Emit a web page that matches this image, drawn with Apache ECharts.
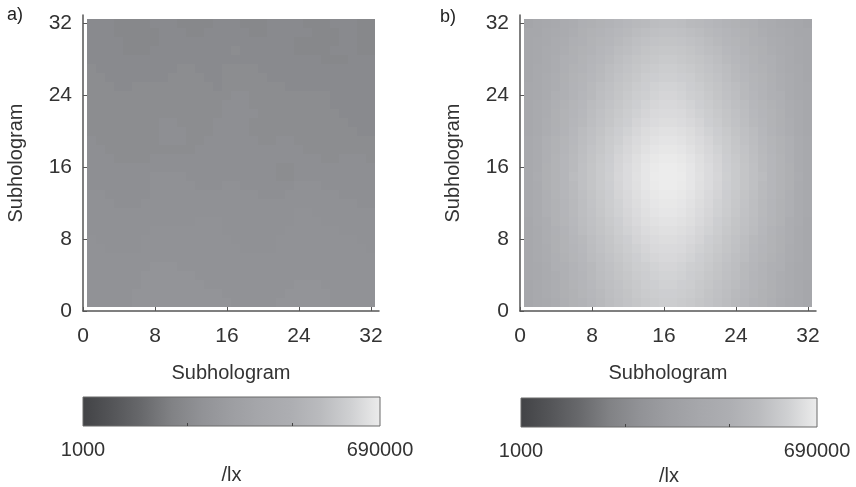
<!DOCTYPE html>
<html>
<head>
<meta charset="utf-8">
<script src="https://cdn.jsdelivr.net/npm/echarts@6/dist/echarts.min.js"></script>
<style>
  html, body { margin: 0; padding: 0; background: #fff; }
  #chart { width: 856px; height: 487px; }
</style>
</head>
<body>
<div id="chart"></div>
<script>
// illuminance per subhologram in klx
// rows run from the top (row 32) down to row 1, columns 1..32
const illumA = [
  [10,10,10,9,9,9,9,10, 10,10,9,9,9,9,10,10, 10,9,9,9,10,10,10,10, 9,9,9,10,10,10,9,9],
  [10,10,10,9,9,9,9,9, 10,10,10,9,9,10,10,10, 10,10,9,9,10,10,10,10, 10,9,9,9,10,10,9,9],
  [10,10,10,10,9,9,9,9, 10,10,10,10,10,10,10,10, 10,10,10,10,10,10,10,9, 9,9,9,9,10,10,9,9],
  [10,10,10,10,9,9,9,10, 10,10,10,10,10,10,10,10, 11,10,10,10,10,10,10,9, 9,9,9,10,10,10,9,9],
  [10,10,10,10,10,10,10,10, 10,10,10,10,10,10,10,10, 10,10,10,10,10,10,10,10, 10,10,9,9,9,10,10,10],
  [11,10,10,10,10,10,10,10, 10,10,11,11,10,10,10,11, 11,11,11,10,10,10,10,10, 10,10,10,10,10,10,10,10],
  [11,11,10,10,10,10,10,10, 10,11,11,11,11,10,10,11, 11,11,11,11,10,10,10,10, 10,10,10,10,10,10,10,10],
  [11,11,11,10,10,11,11,11, 11,11,11,11,11,11,10,11, 11,11,11,11,11,11,10,10, 10,10,10,10,10,10,10,10],
  [11,11,11,11,11,11,11,11, 11,11,11,11,11,11,11,11, 12,12,11,11,11,11,11,11, 11,11,11,10,10,10,10,10],
  [11,11,11,11,11,11,11,11, 11,11,11,11,11,11,11,12, 12,12,11,11,11,11,11,11, 11,11,11,10,10,10,10,10],
  [11,11,11,11,11,11,11,11, 11,11,11,11,11,11,11,12, 12,12,12,11,11,11,11,11, 11,11,11,11,10,10,10,10],
  [11,11,11,11,11,11,11,11, 12,12,11,11,11,11,12,12, 12,12,11,11,11,11,11,11, 11,11,11,11,11,10,10,10],
  [11,11,11,11,11,11,11,11, 12,12,12,11,11,11,12,12, 12,12,11,11,11,11,11,11, 11,11,11,11,11,11,10,10],
  [12,11,11,11,11,11,11,11, 12,12,12,11,11,12,12,12, 12,12,12,11,11,12,12,11, 11,11,11,11,11,11,11,11],
  [12,12,11,11,11,11,11,11, 11,11,11,11,12,12,12,12, 12,12,12,12,12,12,12,12, 11,11,11,11,11,11,11,11],
  [12,12,12,11,11,11,11,12, 12,12,12,12,12,12,12,12, 12,12,12,12,12,12,12,12, 12,12,11,11,12,12,12,11],
  [12,12,12,12,12,12,12,12, 12,12,12,12,12,12,12,12, 12,12,12,12,12,11,11,12, 12,12,12,12,12,12,12,12],
  [12,12,12,12,12,12,12,13, 13,13,13,12,12,12,12,12, 12,12,12,12,12,11,11,12, 12,12,12,12,12,12,12,12],
  [12,12,12,12,12,12,12,13, 13,13,13,13,12,12,12,13, 13,12,12,12,12,12,12,13, 13,13,12,12,12,12,12,12],
  [13,13,12,12,12,12,12,13, 13,13,13,13,13,13,13,13, 13,13,13,12,12,12,13,13, 13,13,13,13,12,12,12,12],
  [13,13,13,12,12,12,13,13, 13,13,13,13,13,13,13,13, 13,13,13,13,13,13,13,13, 13,13,13,13,13,13,12,12],
  [13,13,13,13,13,13,13,13, 13,13,13,13,13,13,13,13, 13,13,13,13,13,13,13,14, 14,13,13,13,13,13,13,13],
  [13,13,13,13,13,13,13,13, 13,13,13,13,14,14,14,13, 13,13,13,13,13,13,13,14, 14,14,13,13,13,13,13,13],
  [13,13,13,13,13,13,13,14, 14,14,14,14,14,14,14,13, 13,13,13,13,13,13,14,14, 14,14,14,14,13,13,13,13],
  [14,13,13,13,13,13,14,14, 14,14,14,14,14,14,14,14, 13,13,13,13,13,14,14,14, 14,14,14,14,14,14,13,13],
  [14,14,13,13,13,13,14,14, 14,14,14,14,14,14,14,14, 14,13,13,13,13,14,14,14, 14,14,14,14,14,14,14,13],
  [14,14,14,14,14,14,14,14, 14,14,14,14,14,14,14,14, 14,14,14,14,14,14,14,14, 14,14,14,14,14,14,14,14],
  [14,14,14,14,14,14,14,15, 15,15,14,14,14,14,14,14, 14,14,14,14,14,14,14,14, 14,14,14,14,14,14,14,14],
  [14,14,14,14,14,14,15,15, 15,15,15,15,14,14,14,14, 14,14,14,14,14,14,14,14, 14,14,14,14,14,14,14,14],
  [14,14,14,14,14,14,15,15, 15,15,15,15,15,14,14,14, 14,14,14,14,14,14,14,15, 15,15,14,14,14,14,14,14],
  [14,14,14,14,14,15,15,15, 15,15,15,15,15,15,15,14, 14,14,14,14,14,14,15,15, 15,15,15,14,14,14,14,14],
  [14,14,14,14,14,15,15,15, 15,15,15,15,15,15,15,15, 14,14,14,14,14,15,15,15, 15,15,15,14,14,14,14,14],
];

const illumB = [
  [44,49,54,60,74,81,100,105, 116,128,141,156,172,181,200,206, 206,200,181,172,156,141,128,116, 105,100,81,74,60,54,49,44],
  [49,49,60,66,74,90,105,116, 128,141,156,172,190,206,218,225, 225,218,206,190,172,156,141,128, 116,105,90,74,66,60,49,49],
  [49,54,60,74,81,100,110,122, 135,148,172,190,212,225,239,246, 246,239,225,212,190,172,148,135, 122,110,100,81,74,60,54,49],
  [49,54,66,74,90,105,116,128, 148,164,190,206,225,246,261,269, 269,261,246,225,206,190,164,148, 128,116,105,90,74,66,54,49],
  [49,54,66,81,100,110,122,141, 156,181,206,225,246,261,277,295, 295,277,261,246,225,206,181,156, 141,122,110,100,81,66,54,49],
  [49,60,66,81,100,116,128,148, 172,200,218,239,261,286,304,322, 322,304,286,261,239,218,200,172, 148,128,116,100,81,66,60,49],
  [49,60,74,90,105,122,135,156, 181,206,232,254,277,313,332,353, 353,332,313,277,254,232,206,181, 156,135,122,105,90,74,60,49],
  [54,60,74,90,110,128,141,172, 200,218,246,269,304,332,364,386, 386,364,332,304,269,246,218,200, 172,141,128,110,90,74,60,54],
  [54,60,74,100,110,128,148,172, 206,225,254,286,322,353,386,407, 407,386,353,322,286,254,225,206, 172,148,128,110,100,74,60,54],
  [54,66,81,100,116,135,156,190, 212,239,269,304,342,386,417,436, 436,417,386,342,304,269,239,212, 190,156,135,116,100,81,66,54],
  [54,66,81,105,122,141,164,200, 225,254,286,322,364,407,446,457, 457,446,407,364,322,286,254,225, 200,164,141,122,105,81,66,54],
  [54,66,90,105,122,148,172,206, 232,261,304,342,398,436,468,490, 490,468,436,398,342,304,261,232, 206,172,148,122,105,90,66,54],
  [54,66,90,110,128,156,190,218, 246,286,332,375,426,479,512,536, 536,512,479,426,375,332,286,246, 218,190,156,128,110,90,66,54],
  [60,74,100,116,135,164,200,225, 261,304,353,407,457,501,549,575, 575,549,501,457,407,353,304,261, 225,200,164,135,116,100,74,60],
  [60,74,100,116,141,172,206,239, 269,313,375,426,479,536,588,616, 616,588,536,479,426,375,313,269, 239,206,172,141,116,100,74,60],
  [60,74,100,122,148,181,212,246, 286,332,398,446,512,575,630,660, 660,630,575,512,446,398,332,286, 246,212,181,148,122,100,74,60],
  [60,74,105,122,148,181,218,254, 295,342,407,468,524,602,660,690, 690,660,602,524,468,407,342,295, 254,218,181,148,122,105,74,60],
  [60,81,105,122,148,190,218,254, 295,353,417,468,536,602,675,690, 690,675,602,536,468,417,353,295, 254,218,190,148,122,105,81,60],
  [60,74,105,122,148,181,218,254, 295,342,407,468,524,602,660,690, 690,660,602,524,468,407,342,295, 254,218,181,148,122,105,74,60],
  [60,74,100,122,148,181,212,246, 286,332,398,446,512,575,630,660, 660,630,575,512,446,398,332,286, 246,212,181,148,122,100,74,60],
  [60,74,100,116,141,172,206,239, 277,322,375,436,490,549,602,630, 630,602,549,490,436,375,322,277, 239,206,172,141,116,100,74,60],
  [60,74,100,116,141,172,206,232, 269,313,364,417,468,524,575,602, 602,575,524,468,417,364,313,269, 232,206,172,141,116,100,74,60],
  [54,74,90,116,135,164,200,225, 254,295,342,398,446,501,536,562, 562,536,501,446,398,342,295,254, 225,200,164,135,116,90,74,54],
  [54,66,90,110,128,156,190,218, 246,277,322,375,417,468,501,524, 524,501,468,417,375,322,277,246, 218,190,156,128,110,90,66,54],
  [54,66,90,105,122,148,172,206, 232,261,304,342,398,436,468,490, 490,468,436,398,342,304,261,232, 206,172,148,122,105,90,66,54],
  [54,66,81,105,122,141,164,200, 225,254,286,322,364,407,446,457, 457,446,407,364,322,286,254,225, 200,164,141,122,105,81,66,54],
  [54,66,81,100,116,135,156,190, 212,239,269,304,342,386,417,436, 436,417,386,342,304,269,239,212, 190,156,135,116,100,81,66,54],
  [54,60,74,100,110,128,148,172, 206,225,254,286,322,353,386,407, 407,386,353,322,286,254,225,206, 172,148,128,110,100,74,60,54],
  [54,60,74,90,110,128,141,172, 200,218,246,269,304,332,364,386, 386,364,332,304,269,246,218,200, 172,141,128,110,90,74,60,54],
  [49,60,74,90,105,122,141,164, 190,212,232,261,286,322,342,364, 364,342,322,286,261,232,212,190, 164,141,122,105,90,74,60,49],
  [49,60,74,90,105,116,135,156, 181,206,225,246,277,304,322,342, 342,322,304,277,246,225,206,181, 156,135,116,105,90,74,60,49],
  [49,60,66,81,100,116,128,148, 172,200,218,239,261,286,304,322, 322,304,286,261,239,218,200,172, 148,128,116,100,81,66,60,49],
];

const axisTicks = [0, 8, 16, 24, 32];
const barTicks = [10000, 100000];
const barLabels = [1000, 690000];
// grey colormap, evenly spaced over log10(lx)
const grayMap = ['#424346', '#545558', '#68696c', '#818285', '#919296', '#9d9ea2',
                 '#a6a7ab', '#adaeb2', '#babbbe', '#cfd0d2', '#ececec'];

const logMin = Math.log10(barLabels[0]);
const logMax = Math.log10(barLabels[1]);
const font = '"Liberation Sans", Arial, sans-serif';
const textColor = '#333';
const lineColor = '#555';

function cells(rows) {
  const out = [];
  rows.forEach((row, r) => {
    row.forEach((v, c) => {
      const lx = v * 1000;
      out.push([c + 1, rows.length - r, lx, Math.log10(lx)]);
    });
  });
  return out;
}

function renderCell(params, api) {
  const a = api.coord([api.value(0) - 0.5, api.value(1) - 0.5]);
  const b = api.coord([api.value(0) + 0.5, api.value(1) + 0.5]);
  const x = Math.round(a[0]);
  const y = Math.round(b[1]);
  return {
    type: 'rect',
    shape: { x, y, width: Math.round(b[0]) - x, height: Math.round(a[1]) - y },
    style: { fill: api.visual('color') },
  };
}

function renderBar(params, api) {
  const a = api.coord([logMin, 0]);
  const b = api.coord([logMax, 1]);
  const stops = grayMap.map((c, i) => ({ offset: i / (grayMap.length - 1), color: c }));
  return {
    type: 'rect',
    shape: { x: a[0], y: b[1], width: b[0] - a[0], height: a[1] - b[1] },
    style: { fill: new echarts.graphic.LinearGradient(0, 0, 1, 0, stops), stroke: '#6a6a6a', lineWidth: 1 },
  };
}

function plotX(idx) {
  return {
    type: 'value', gridIndex: idx, min: 0, max: 32.9,
    name: 'Subhologram', nameLocation: 'middle', nameGap: 52,
    nameTextStyle: { fontFamily: font, fontSize: 20, color: textColor },
    axisLine: { onZero: false, lineStyle: { color: lineColor, width: 1.5 } },
    axisTick: { inside: true, length: 4, customValues: axisTicks, lineStyle: { color: lineColor } },
    axisLabel: { customValues: axisTicks, margin: 15, fontFamily: font, fontSize: 21, color: textColor },
    splitLine: { show: false },
  };
}

function plotY(idx) {
  return {
    type: 'value', gridIndex: idx, min: 0, max: 32.9,
    name: 'Subhologram', nameLocation: 'middle', nameGap: 57,
    nameTextStyle: { fontFamily: font, fontSize: 20, color: textColor },
    axisLine: { onZero: false, lineStyle: { color: lineColor, width: 1.5 } },
    axisTick: { inside: true, length: 4, customValues: axisTicks, lineStyle: { color: lineColor } },
    axisLabel: { customValues: axisTicks, margin: 11, fontFamily: font, fontSize: 21, color: textColor },
    splitLine: { show: false },
  };
}

function barX(idx) {
  return {
    type: 'value', gridIndex: idx, min: logMin, max: logMax, z: 5,
    name: '/lx', nameLocation: 'middle', nameGap: 39,
    nameTextStyle: { fontFamily: font, fontSize: 20, color: textColor },
    axisLine: { show: false },
    axisTick: { inside: true, length: 3, customValues: barTicks.map(Math.log10), lineStyle: { color: '#444' } },
    axisLabel: {
      customValues: barLabels.map(Math.log10), margin: 14,
      formatter: (v) => String(Math.round(Math.pow(10, v))),
      fontFamily: font, fontSize: 20, color: textColor,
    },
    splitLine: { show: false },
  };
}

function barY(idx) {
  return { type: 'value', gridIndex: idx, min: 0, max: 1, show: false };
}

const titleStyle = { fontFamily: font, fontSize: 18, fontWeight: 'normal', color: '#222' };

const chart = echarts.init(document.getElementById('chart'));
chart.setOption({
  animation: false,
  backgroundColor: '#fff',
  title: [
    { text: 'a)', left: 7, top: 6, padding: 0, textStyle: titleStyle },
    { text: 'b)', left: 440, top: 8, padding: 0, textStyle: titleStyle },
  ],
  grid: [
    { left: 83, top: 15, width: 296, height: 296, outerBoundsMode: 'none' },
    { left: 520, top: 15, width: 296, height: 296, outerBoundsMode: 'none' },
    { left: 83, top: 397, width: 297, height: 29, outerBoundsMode: 'none' },
    { left: 521, top: 398, width: 296, height: 29, outerBoundsMode: 'none' },
  ],
  xAxis: [plotX(0), plotX(1), barX(2), barX(3)],
  yAxis: [plotY(0), plotY(1), barY(2), barY(3)],
  visualMap: {
    type: 'continuous', show: false, min: logMin, max: logMax,
    dimension: 3, seriesIndex: [0, 1], inRange: { color: grayMap },
  },
  series: [
    { type: 'custom', xAxisIndex: 0, yAxisIndex: 0, renderItem: renderCell, encode: { x: 0, y: 1 }, data: cells(illumA) },
    { type: 'custom', xAxisIndex: 1, yAxisIndex: 1, renderItem: renderCell, encode: { x: 0, y: 1 }, data: cells(illumB) },
    { type: 'custom', xAxisIndex: 2, yAxisIndex: 2, renderItem: renderBar, data: [[logMin, 0]] },
    { type: 'custom', xAxisIndex: 3, yAxisIndex: 3, renderItem: renderBar, data: [[logMin, 0]] },
  ],
});
</script>
</body>
</html>
